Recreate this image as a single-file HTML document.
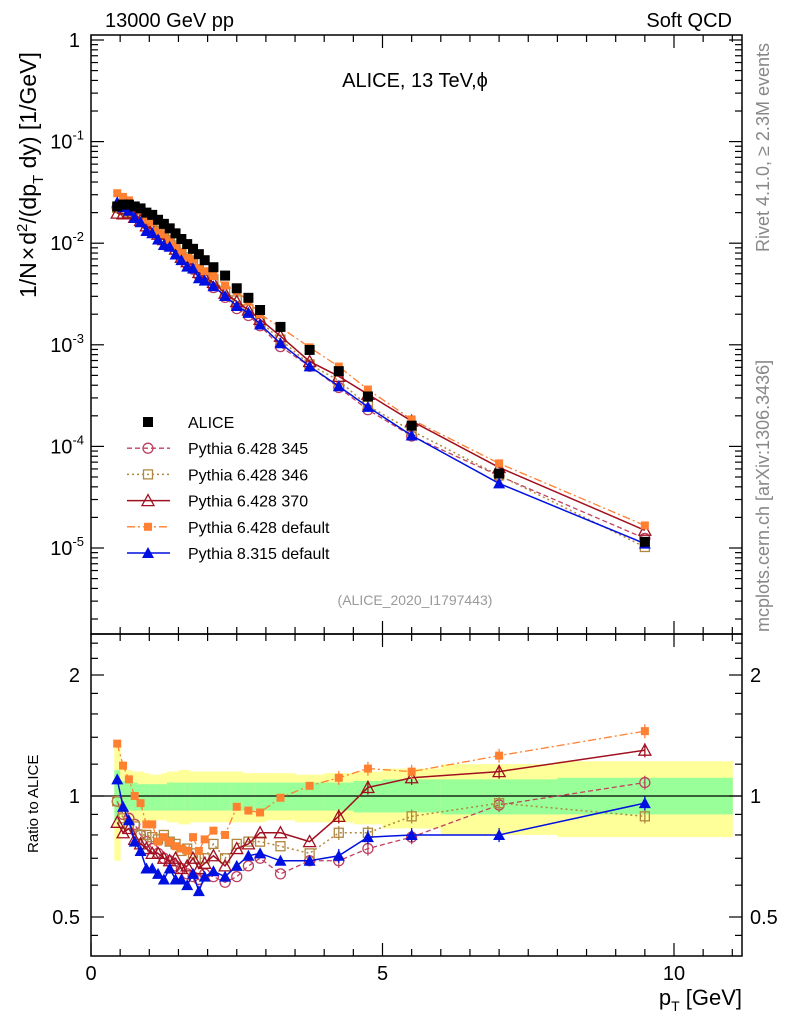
<!DOCTYPE html>
<html><head><meta charset="utf-8"><style>
body{margin:0;background:#fff}
svg text{font-family:"Liberation Sans",sans-serif}
</style></head><body>
<svg id="c" width="786" height="1024" xmlns="http://www.w3.org/2000/svg">
<g id="bands"></g>
<g id="grid"></g>
<g id="series"></g>
<text x="105" y="27" font-size="20">13000 GeV pp</text>
<text x="732" y="27" font-size="20" text-anchor="end">Soft QCD</text>
<text x="415" y="87" font-size="20" text-anchor="middle">ALICE, 13 TeV,ϕ</text>
<text x="415" y="605" font-size="14" fill="#999" text-anchor="middle">(ALICE_2020_I1797443)</text>
<text transform="translate(769,252) rotate(-90)" font-size="18" fill="#888">Rivet 4.1.0, ≥ 2.3M events</text>
<text transform="translate(769,632) rotate(-90)" font-size="18" fill="#888">mcplots.cern.ch [arXiv:1306.3436]</text>
<text transform="translate(36,298) rotate(-90)" font-size="23">1/N<tspan dx="2">×</tspan><tspan dx="2">d</tspan><tspan font-size="15" dy="-9">2</tspan><tspan dy="9">/(dp</tspan><tspan font-size="15" dy="7">T</tspan><tspan dy="-7"> dy) [1/GeV]</tspan></text>
<text transform="translate(38,853) rotate(-90)" font-size="15">Ratio to ALICE</text>
<text x="742" y="1005" font-size="22" text-anchor="end">p<tspan font-size="14" dy="6">T</tspan><tspan dy="-6"> [GeV]</tspan></text>
<g id="legend"></g>
</svg>
<script>
const xs=[0.45,0.55,0.65,0.75,0.85,0.95,1.05,1.15,1.25,1.35,1.45,1.55,1.65,1.75,1.85,1.95,2.1,2.3,2.5,2.7,2.9,3.25,3.75,4.25,4.75,5.5,7,9.5];
const binEdges=[0.4,0.5,0.6,0.7,0.8,0.9,1.0,1.1,1.2,1.3,1.4,1.5,1.6,1.7,1.8,1.9,2.0,2.2,2.4,2.6,2.8,3.0,3.5,4.0,4.5,5.0,6.0,8.0,11.0];
const alice=[0.023,0.024,0.024,0.023,0.022,0.020,0.019,0.017,0.0155,0.014,0.0125,0.011,0.0098,0.0088,0.0078,0.0068,0.0058,0.0048,0.0036,0.0029,0.0022,0.0015,0.00089,0.00055,0.00031,0.00016,5.4e-5,1.15e-5];
const r345=[0.97,0.90,0.88,0.85,0.80,0.77,0.74,0.72,0.70,0.69,0.67,0.66,0.64,0.63,0.62,0.64,0.63,0.61,0.63,0.67,0.70,0.64,0.69,0.69,0.74,0.79,0.95,1.08];
const r346=[0.97,0.88,0.85,0.84,0.80,0.80,0.79,0.78,0.80,0.77,0.76,0.73,0.74,0.72,0.70,0.70,0.76,0.70,0.76,0.77,0.77,0.75,0.72,0.81,0.81,0.89,0.96,0.89];
const r370=[0.86,0.81,0.83,0.78,0.76,0.74,0.72,0.72,0.70,0.69,0.70,0.66,0.67,0.70,0.66,0.68,0.71,0.67,0.74,0.76,0.81,0.81,0.77,0.89,1.05,1.11,1.15,1.30];
const rdef6=[1.35,1.19,1.10,1.0,0.96,0.85,0.85,0.77,0.79,0.77,0.75,0.74,0.73,0.79,0.73,0.78,0.82,0.80,0.94,0.92,0.91,0.99,1.06,1.11,1.17,1.15,1.26,1.45];
const rdef8=[1.10,0.94,0.87,0.77,0.73,0.66,0.66,0.64,0.62,0.66,0.62,0.62,0.60,0.64,0.58,0.63,0.65,0.63,0.67,0.71,0.72,0.69,0.69,0.71,0.79,0.80,0.80,0.96];
const yellowHi=[1.35,1.17,1.16,1.15,1.15,1.14,1.13,1.13,1.14,1.15,1.15,1.16,1.16,1.15,1.15,1.15,1.15,1.15,1.15,1.14,1.14,1.14,1.13,1.14,1.15,1.17,1.20,1.22];
const yellowLo=[0.69,0.87,0.87,0.86,0.86,0.86,0.86,0.87,0.87,0.86,0.86,0.85,0.85,0.86,0.86,0.86,0.86,0.86,0.86,0.86,0.86,0.87,0.86,0.86,0.85,0.83,0.80,0.79];
const greenHi=[1.16,1.09,1.08,1.08,1.07,1.07,1.07,1.07,1.07,1.08,1.08,1.08,1.08,1.08,1.08,1.08,1.08,1.08,1.08,1.08,1.08,1.08,1.08,1.08,1.09,1.10,1.10,1.11];
const greenLo=[0.87,0.92,0.92,0.92,0.92,0.92,0.92,0.92,0.92,0.92,0.92,0.92,0.92,0.92,0.92,0.92,0.92,0.92,0.92,0.92,0.92,0.92,0.92,0.92,0.91,0.91,0.90,0.90];
const xTicks=[0,5,10];
const NS="http://www.w3.org/2000/svg";
const X0=91,XS=58.3,L=91,R=742,T=35,MB=634,B=956;
const px=x=>X0+XS*x;
const py=v=>40-101.6*Math.log10(v);
const ry=r=>796-121*Math.log2(r);
function mk(tag,at,parent){const e=document.createElementNS(NS,tag);for(const k in at)e.setAttribute(k,at[k]);parent.appendChild(e);return e;}
const G=document.getElementById('grid'),BD=document.getElementById('bands'),S=document.getElementById('series'),LG=document.getElementById('legend');
for(let i=0;i<xs.length;i++){
 const x1=px(binEdges[i]),x2=px(binEdges[i+1]);
 const y=mk('rect',{x:x1,y:ry(yellowHi[i]),width:x2-x1+0.5,height:ry(yellowLo[i])-ry(yellowHi[i]),fill:'#ffff99'},BD);
 
 
 const g=mk('rect',{x:x1,y:ry(greenHi[i]),width:x2-x1+0.5,height:ry(greenLo[i])-ry(greenHi[i]),fill:'#99ff99'},BD);
 
 
}
mk('rect',{x:L,y:T,width:R-L,height:MB-T,fill:'none',stroke:'#000','stroke-width':1.5},G);
mk('rect',{x:L,y:MB,width:R-L,height:B-MB,fill:'none',stroke:'#000','stroke-width':1.5},G);
mk('line',{x1:L,x2:R,y1:ry(1),y2:ry(1),stroke:'#000','stroke-width':1.2},G);
for(let v=0;v<=11;v+=0.5){const X=px(v);const maj=Math.abs(v%5)<1e-9;const l=maj?13:7;
 for(const [a,d] of [[T,1],[MB,-1],[MB,1],[B,-1]]) mk('line',{x1:X,x2:X,y1:a,y2:a+d*l,stroke:'#000','stroke-width':1.2},G);}
xTicks.forEach(v=>{const t=mk('text',{x:px(v),y:980,'font-size':20,'text-anchor':'middle'},G);t.textContent=v;
 
 });
for(let e=-6;e<=0;e++){for(let m=1;m<10;m++){const v=m*Math.pow(10,e);const Y=py(v);if(Y<T||Y>MB)continue;const l=m==1?13:7;
 mk('line',{x1:L,x2:L+l,y1:Y,y2:Y,stroke:'#000','stroke-width':1.2},G);mk('line',{x1:R,x2:R-l,y1:Y,y2:Y,stroke:'#000','stroke-width':1.2},G);}}
for(let e=-5;e<=0;e++){const t=mk('text',{x:e==0?80:84,y:py(Math.pow(10,e))+7,'font-size':20,'text-anchor':'end'},G);
 
 
 if(e==0)t.textContent='1';else{t.innerHTML='10<tspan font-size="13" dy="-9">'+e+'</tspan>';}}
[0.45,0.5,0.6,0.7,0.8,0.9,1,1.2,1.4,1.6,1.8,2,2.2,2.4].forEach(v=>{const Y=ry(v);if(Y>B||Y<MB)return;const l=(v==0.5||v==1||v==2)?13:7;
 mk('line',{x1:L,x2:L+l,y1:Y,y2:Y,stroke:'#000','stroke-width':1.2},G);mk('line',{x1:R,x2:R-l,y1:Y,y2:Y,stroke:'#000','stroke-width':1.2},G);});
[[2,'2'],[1,'1'],[0.5,'0.5']].forEach(([v,s])=>{for(const [x,a] of [[80,'end'],[750,'start']]){const t=mk('text',{x:x,y:ry(v)+7,'font-size':20,'text-anchor':a},G);t.textContent=s;
 
 }});
function marker(kind,col,x,y,parent){
 if(kind=='sq')return mk('rect',{x:x-5,y:y-5,width:10,height:10,fill:'#000'},parent);
 if(kind=='osq')return mk('rect',{x:x-4.5,y:y-4.5,width:9,height:9,fill:'none',stroke:col,'stroke-width':1.3},parent);
 if(kind=='fsq')return mk('rect',{x:x-4,y:y-4,width:8,height:8,fill:col},parent);
 if(kind=='oc')return mk('circle',{cx:x,cy:y,r:5,fill:'none',stroke:col,'stroke-width':1.3},parent);
 if(kind=='otri')return mk('path',{d:`M${x} ${y-6}L${x+6} ${y+5}L${x-6} ${y+5}Z`,fill:'none',stroke:col,'stroke-width':1.3},parent);
 if(kind=='ftri')return mk('path',{d:`M${x} ${y-6}L${x+6} ${y+5}L${x-6} ${y+5}Z`,fill:col},parent);
}
const models=[
 {name:'Pythia 6.428 345',r:r345,col:'#c04060',kind:'oc',dash:'5,3',w:1.3},
 {name:'Pythia 6.428 346',r:r346,col:'#b08840',kind:'osq',dash:'2,3',w:1.5},
 {name:'Pythia 6.428 370',r:r370,col:'#a01020',kind:'otri',dash:'',w:1.5},
 {name:'Pythia 6.428 default',r:rdef6,col:'#ff8030',kind:'fsq',dash:'8,3,2,3',w:1.3},
 {name:'Pythia 8.315 default',r:rdef8,col:'#0010e0',kind:'ftri',dash:'',w:1.5}];
models.forEach(m=>{
 const g=mk('g',{},S);
 
 
 const main=xs.map((x,i)=>px(x)+','+py(alice[i]*m.r[i])).join(' ');
 const rat=xs.map((x,i)=>px(x)+','+ry(m.r[i])).join(' ');
 mk('polyline',{points:main,fill:'none',stroke:m.col,'stroke-width':m.w,'stroke-dasharray':m.dash},g);
 mk('polyline',{points:rat,fill:'none',stroke:m.col,'stroke-width':m.w,'stroke-dasharray':m.dash},g);
 xs.forEach((x,i)=>{
  if(x>4){const e=0.04*m.r[i];mk('line',{x1:px(x),x2:px(x),y1:ry(m.r[i]+e),y2:ry(m.r[i]-e),stroke:m.col,'stroke-width':1.3},g);}
  const a=marker(m.kind,m.col,px(x),py(alice[i]*m.r[i]),g);
  
  
  const b=marker(m.kind,m.col,px(x),ry(m.r[i]),g);
  
  
 });
});
const dg=mk('g',{},S);


xs.forEach((x,i)=>{const p=marker('sq','#000',px(x),py(alice[i]),dg);
 
 });
const ents=[{name:'ALICE',kind:'sq',col:'#000',dash:null}].concat(models);
ents.forEach((m,i)=>{const y=422+26.2*i;const g=mk('g',{},LG);
 
 
 if(m.dash!==null)mk('line',{x1:127,x2:170,y1:y,y2:y,stroke:m.col,'stroke-width':m.w,'stroke-dasharray':m.dash},g);
 marker(m.kind,m.col,148,y,g);
 const t=mk('text',{x:188,y:y+6,'font-size':16},g);t.textContent=m.name;});
</script>
</body></html>
